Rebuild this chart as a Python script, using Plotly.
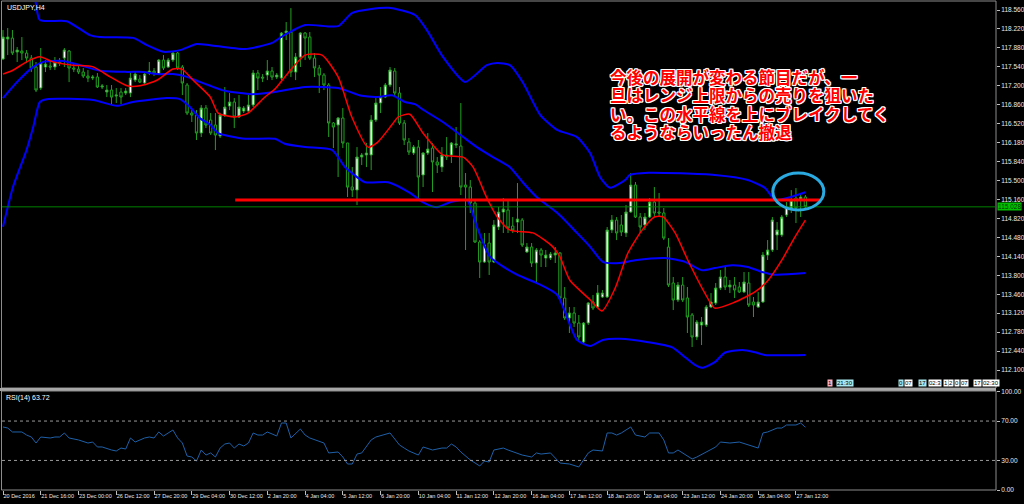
import plotly.graph_objects as go

# ---------------- data ----------------
bars = list(range(171))
opens = [117.680,118.039,118.057,117.806,117.824,117.788,117.698,117.537,117.160,117.537,
         117.555,117.537,117.627,117.698,117.824,117.519,117.501,117.447,117.375,117.339,
         117.357,117.178,117.088,117.124,117.016,117.088,117.070,117.070,117.303,117.321,
         117.250,117.429,117.465,117.411,117.662,117.537,117.662,117.788,117.537,117.214,
         116.711,116.675,116.352,116.801,116.586,116.496,116.299,116.675,116.837,116.909,
         116.640,116.747,116.747,116.855,117.429,117.357,117.393,117.465,117.357,117.339,
         118.147,118.165,117.447,117.716,118.147,118.075,117.698,117.519,117.393,117.214,
         116.532,116.496,116.622,116.173,115.383,115.329,115.922,115.958,115.958,116.586,
         116.891,116.998,117.214,117.465,117.070,116.532,116.191,115.994,116.101,115.599,
         115.994,116.083,115.832,115.742,115.958,115.958,116.137,116.119,115.419,115.383,
         115.096,114.397,114.038,114.379,114.038,114.666,114.935,114.971,114.684,114.755,
         114.791,114.217,114.307,114.020,114.253,114.109,114.109,114.163,114.199,113.392,
         113.033,113.123,112.943,112.602,112.943,113.320,113.230,113.410,113.410,114.612,
         114.791,114.702,114.558,114.935,115.419,114.845,114.702,114.845,115.114,114.935,
         114.917,114.307,113.661,113.356,113.625,113.392,113.087,112.692,112.907,112.907,
         113.230,113.302,113.571,113.769,113.589,113.625,113.589,113.499,113.661,113.320,
         113.230,113.320,114.163,114.253,114.522,114.522,114.881,115.007,115.186,115.168,
         115.204]
highs = [118.201,118.237,118.201,117.896,118.075,117.842,117.752,117.627,117.878,117.662,
         117.627,117.716,117.698,117.878,117.842,117.591,117.573,117.519,117.483,117.393,
         117.429,117.232,117.214,117.214,117.160,117.160,117.160,117.447,117.447,117.393,
         117.447,117.627,117.519,117.680,117.752,117.698,117.806,117.806,117.573,117.250,
         116.765,116.765,116.855,116.855,116.711,116.711,116.711,117.178,117.070,116.980,
         117.034,116.837,117.034,117.483,117.483,117.411,117.662,117.537,117.429,118.165,
         118.344,118.595,117.788,118.165,118.165,118.165,117.788,117.573,117.429,117.250,
         116.550,116.640,116.801,116.173,115.742,116.101,115.994,116.173,116.675,116.980,
         117.178,117.250,117.537,117.519,117.178,116.586,116.263,116.137,116.227,116.011,
         116.352,116.173,115.922,116.101,116.281,116.191,116.460,116.891,115.635,115.509,
         115.150,114.432,114.558,114.558,114.791,115.025,115.186,115.150,114.845,115.455,
         114.827,114.379,114.379,114.289,114.289,114.253,114.217,114.307,114.217,113.589,
         113.230,113.230,113.087,112.961,113.320,113.446,113.625,113.535,114.666,114.881,
         114.845,114.881,115.060,115.635,115.473,114.917,114.917,115.186,115.383,115.276,
         115.007,114.468,113.769,113.679,113.769,113.589,113.123,112.997,113.051,113.266,
         113.481,113.661,113.894,113.948,113.715,113.769,113.679,113.858,113.858,113.410,
         113.499,114.217,114.432,114.845,114.755,114.881,115.114,115.329,115.365,115.240,
         115.240]
lows = [117.662,117.752,117.752,117.627,117.662,117.609,117.447,117.088,117.124,117.447,
        117.483,117.483,117.555,117.537,117.267,117.447,117.411,117.339,117.267,117.303,
        117.160,117.142,116.998,116.855,116.891,116.873,117.034,116.998,117.267,117.250,
        117.232,117.393,117.375,117.393,117.483,117.519,117.627,117.483,117.034,116.675,
        116.550,116.227,116.281,116.442,116.317,116.047,116.263,116.640,116.765,116.442,
        116.622,116.711,116.711,116.819,117.124,117.267,117.303,117.303,117.321,117.303,
        118.021,117.357,117.303,117.537,117.662,117.662,117.357,117.070,117.124,116.281,
        116.083,115.563,116.083,115.204,115.204,115.060,115.778,115.742,115.688,116.550,
        116.711,116.980,117.178,116.998,116.496,116.137,115.958,115.958,115.186,115.383,
        115.958,115.294,115.635,115.653,115.868,115.814,116.083,115.240,114.253,114.917,
        114.379,113.751,114.020,113.805,114.020,114.612,114.558,114.558,114.558,114.558,
        114.307,114.199,113.948,113.661,113.948,113.948,114.074,114.020,113.356,112.997,
        112.764,112.871,112.638,112.584,112.907,113.176,113.212,113.392,113.392,114.558,
        114.432,114.504,114.486,114.917,114.827,114.558,114.612,114.827,114.845,114.845,
        114.432,113.589,113.176,113.320,113.320,112.764,112.512,112.638,112.548,112.871,
        113.212,113.266,113.535,113.535,113.481,113.392,113.481,113.481,113.230,113.051,
        113.212,113.302,114.074,114.217,114.253,114.486,114.845,114.917,114.737,114.845,
        114.971]
closes = [118.075,118.075,117.788,117.842,117.788,117.698,117.519,117.124,117.609,117.591,
          117.537,117.627,117.609,117.842,117.519,117.501,117.447,117.375,117.339,117.357,
          117.178,117.196,117.124,116.998,117.034,116.998,117.106,117.339,117.411,117.267,
          117.411,117.465,117.429,117.662,117.519,117.662,117.788,117.519,117.250,116.711,
          116.675,116.352,116.801,116.496,116.352,116.317,116.675,116.819,116.909,116.640,
          116.819,116.801,116.855,117.429,117.339,117.339,117.465,117.357,117.393,118.147,
          118.183,117.447,117.716,118.147,118.057,117.698,117.519,117.393,117.214,116.532,
          116.460,116.622,116.173,115.383,115.329,115.922,115.958,115.994,116.586,116.891,
          116.998,117.214,117.483,117.070,116.532,116.227,116.011,116.101,115.563,115.994,
          116.065,115.832,115.778,115.958,115.922,116.173,116.155,115.383,115.383,115.096,
          114.397,114.038,114.343,114.038,114.702,114.935,114.989,114.648,114.612,114.809,
          114.343,114.307,114.020,114.253,114.163,114.163,114.181,114.199,113.392,113.033,
          113.123,112.943,112.692,112.943,113.302,113.212,113.481,113.481,114.612,114.791,
          114.558,114.576,114.935,115.419,114.845,114.666,114.845,115.114,114.917,114.917,
          114.468,113.625,113.356,113.625,113.356,113.051,112.692,112.961,112.961,113.230,
          113.320,113.571,113.769,113.589,113.625,113.535,113.499,113.679,113.266,113.266,
          113.320,114.163,114.253,114.791,114.612,114.845,115.025,115.150,115.007,115.204,
          115.028]

# Bollinger band lines and moving average
upper_x = [0, 4, 6.8, 7.8, 13.5, 18.4, 20.5, 27.6, 30.5, 34, 37.5, 41, 43.9, 51.3, 57, 59, 64, 71, 74,
           81.6, 87.3, 89.8, 93.2, 97.9, 102.5, 104.7, 107.4, 110.2, 113.8, 117.4, 121.6, 124.4, 126.5,
           128.6, 131.8, 132.8, 136.7, 150.8, 157.8, 161.4, 163.6, 166.3, 170]
upper_y = [119.82, 119.28, 118.74, 118.38, 118.36, 118.11, 118.075, 118.06, 117.93, 117.81, 117.84,
           117.95, 117.93, 117.86, 117.97, 118.08, 118.29, 118.27, 118.51, 118.60, 118.47, 118.20,
           117.72, 117.27, 117.57, 117.61, 117.57, 117.25, 116.68, 116.41, 116.28, 115.99, 115.56,
           115.37, 115.51, 115.60, 115.64, 115.60, 115.51, 115.37, 115.15, 115.19, 115.29]
mid_x = [0, 3, 6.4, 8.5, 12.7, 16.3, 20.6, 26.3, 29.7, 32.6, 36, 39, 41.7, 43.9, 47, 52.8, 57.6, 64, 71,
         76, 79.4, 82.4, 85.2, 87.3, 89, 93.2, 97.5, 100.4, 103.8, 107.4, 110.2, 113.1, 117.4, 121.6,
         124.4, 127.1, 130.7, 133.9, 140.3, 144.5, 148.1, 150.8, 154.4, 157.8, 160.8, 163.6, 170]
mid_y = [116.98, 117.27, 117.54, 117.63, 117.645, 117.57, 117.47, 117.45, 117.45, 117.41, 117.41, 117.36,
         117.27, 117.20, 117.11, 117.05, 117.09, 117.18, 117.16, 117.02, 117.00, 117.03, 116.91, 116.87,
         116.77, 116.55, 116.28, 116.10, 115.92, 115.74, 115.46, 115.20, 114.92, 114.56, 114.31, 114.04,
         114.02, 114.07, 114.11, 114.04, 113.89, 113.93, 113.98, 113.95, 113.86, 113.81, 113.84]
lower_x = [0, 2.1, 5, 6.4, 7.8, 9.3, 19.1, 24.1, 27.5, 34.7, 37.5, 39.6, 41.7, 43.9, 45.6, 51.3, 57.6,
           59.7, 64, 69.7, 72.5, 76.7, 81.6, 86.2, 89, 91.9, 94.7, 98.3, 100.4, 103.2, 108.9, 113.1,
           117.4, 121.6, 124.4, 127.1, 130.7, 136.7, 141.7, 144.5, 146.6, 148.1, 150.8, 152.9, 156.6,
           159.3, 161.4, 170]
lower_y = [114.67, 115.38, 116.05, 116.46, 116.91, 116.96, 116.945, 116.84, 116.91, 116.98, 116.96,
           116.82, 116.62, 116.50, 116.35, 116.25, 116.25, 116.16, 116.10, 116.05, 115.74, 115.47,
           115.47, 115.28, 115.11, 115.02, 115.11, 115.15, 114.67, 114.13, 113.81, 113.66, 113.45,
           112.64, 112.53, 112.64, 112.66, 112.60, 112.51, 112.33, 112.19, 112.14, 112.24, 112.41,
           112.46, 112.42, 112.37, 112.37]
ma_x = [0, 2.1, 5, 7.8, 10.6, 14.8, 19.1, 22.7, 26.3, 29, 32.6, 36, 37.9, 40.3, 43.9, 45.6, 49.2, 51.9,
        55.5, 57.6, 60.4, 64, 67.6, 71, 73.9, 77.3, 79.4, 82.4, 83.7, 86.2, 89, 93.2, 97.5, 99.6, 102.5,
        104.7, 107.4, 112.3, 116.5, 118, 120.1, 124.4, 126.9, 129.7, 132.4, 135.4, 138.1, 139.8, 142.4,
        145.1, 148.7, 150.8, 155.1, 159.3, 162.1, 165, 167.8, 170]
ma_y = [117.41, 117.48, 117.63, 117.72, 117.63, 117.57, 117.54, 117.36, 117.20, 117.20, 117.30, 117.50,
        117.50, 117.30, 117.00, 116.71, 116.64, 116.71, 117.00, 117.14, 117.43, 117.75, 117.75, 117.36,
        116.64, 116.10, 116.19, 116.50, 116.64, 116.69, 116.35, 115.96, 115.92, 115.74, 115.19, 114.85,
        114.61, 114.56, 114.31, 114.13, 113.71, 113.36, 113.16, 113.57, 114.20, 114.61, 114.85, 114.85,
        114.56, 114.07, 113.48, 113.21, 113.32, 113.50, 113.71, 114.07, 114.49, 114.79]

rsi_x = [0, 1, 2, 4, 5, 6, 7, 8, 10, 11, 12, 13, 14, 16, 18, 19, 20, 21, 23, 24, 25, 26, 27, 28, 30, 31,
         32, 33, 34, 36, 37, 38, 39, 40, 41, 42, 43, 44, 45, 46, 47, 48, 49, 50, 51, 52, 53, 54, 55, 56,
         57, 58, 59, 60, 61, 63, 64, 65, 68, 69, 71, 72, 73, 74, 75, 76, 78, 79, 82, 84, 85, 86, 88, 89,
         91, 93, 94, 95, 96, 97, 99, 101, 102, 103, 104, 106, 107, 109, 110, 112, 113, 114, 116, 118,
         120, 122, 124, 125, 127, 128, 129, 130, 131, 133, 134, 136, 137, 139, 140, 141, 142, 143, 144,
         146, 147, 149, 151, 152, 154, 156, 158, 160, 161, 162, 164, 165, 166, 168, 169, 170]
rsi_v = [64.0, 62.9, 58.9, 58.9, 55.8, 53.8, 47.7, 53.8, 52.8, 53.8, 53.8, 57.9, 52.8, 50.8, 47.7, 48.7,
         43.7, 43.7, 40.6, 39.6, 42.6, 41.6, 52.8, 48.7, 52.8, 53.8, 52.8, 58.9, 54.8, 60.9, 52.8, 47.7,
         34.5, 33.5, 29.4, 40.6, 35.5, 37.6, 33.5, 42.6, 46.7, 47.7, 42.6, 46.7, 44.7, 47.7, 57.9, 55.8,
         55.8, 58.9, 56.9, 54.8, 68.0, 68.0, 52.8, 61.9, 55.8, 52.8, 47.7, 37.6, 38.6, 33.5, 26.4, 26.4,
         36.5, 37.6, 50.8, 53.8, 57.9, 45.7, 42.6, 39.6, 35.5, 43.7, 40.6, 42.6, 42.6, 46.7, 43.7, 38.6,
         30.5, 24.4, 29.4, 28.4, 40.6, 42.6, 40.6, 37.6, 35.5, 33.5, 37.6, 36.5, 37.6, 27.4, 26.4, 23.4,
         37.6, 40.6, 39.6, 57.9, 57.9, 55.8, 57.9, 64.0, 55.8, 53.8, 57.9, 57.9, 50.8, 37.6, 37.6, 40.6,
         37.6, 31.5, 33.5, 38.6, 43.7, 48.7, 47.7, 48.7, 45.7, 42.6, 57.9, 58.9, 62.9, 62.9, 66.0, 66.0,
         68.0, 63.72]

price_ticks = [118.56, 118.22, 117.88, 117.54, 117.20, 116.86, 116.52, 116.18, 115.84, 115.50, 115.16,
               114.82, 114.48, 114.14, 113.80, 113.46, 113.12, 112.78, 112.44, 112.10]
time_tick_bars = list(range(0, 171, 8))
time_tick_labels = ["20 Dec 2016", "21 Dec 16:00", "23 Dec 00:00", "26 Dec 12:00", "27 Dec 20:00",
                    "29 Dec 04:00", "30 Dec 12:00", "2 Jan 20:00", "4 Jan 04:00", "5 Jan 12:00",
                    "6 Jan 20:00", "10 Jan 04:00", "11 Jan 12:00", "12 Jan 20:00", "16 Jan 04:00",
                    "17 Jan 12:00", "18 Jan 20:00", "20 Jan 04:00", "23 Jan 12:00", "24 Jan 20:00",
                    "26 Jan 04:00", "27 Jan 12:00"]
rsi_ticks = [0, 30, 70, 100]
current_price = 115.028
resistance = 115.15
resistance_from, resistance_to = 49.2, 173.1
note_lines = ["今後の展開が変わる節目だが、一",
              "旦はレンジ上限からの売りを狙いた",
              "い。この水平線を上にブレイクしてく",
              "るようならいったん撤退"]

# ---------------- figure ----------------
W, H = 1024, 504
def px(x): return x / W
def py(y): return 1 - y / H

fig = go.Figure()
fig.add_trace(go.Candlestick(
    x=bars, open=opens, high=highs, low=lows, close=closes,
    increasing=dict(line=dict(color="#22a022", width=1), fillcolor="#ffffff"),
    decreasing=dict(line=dict(color="#22a022", width=1), fillcolor="#000000"),
    whiskerwidth=0, xaxis="x", yaxis="y", hoverinfo="skip"))
for xs, ys in [(upper_x, upper_y), (mid_x, mid_y), (lower_x, lower_y)]:
    fig.add_trace(go.Scatter(x=xs, y=ys, mode="lines", line=dict(color="#0000ff", width=2, shape="spline", smoothing=0.6),
                             xaxis="x", yaxis="y", hoverinfo="skip"))
fig.add_trace(go.Scatter(x=ma_x, y=ma_y, mode="lines", line=dict(color="#ff0000", width=1.5, shape="spline", smoothing=0.6),
                         xaxis="x", yaxis="y", hoverinfo="skip"))
fig.add_trace(go.Scatter(x=rsi_x, y=rsi_v, mode="lines", line=dict(color="#1f60a8", width=1),
                         xaxis="x2", yaxis="y2", hoverinfo="skip"))

xr = [(2 - 3) / 4.72, (996 - 3) / 4.72]
small = dict(family="Liberation Sans", size=6.5, color="#e8e8e8")
tiny = dict(family="Liberation Sans", size=5.5, color="#e8e8e8")
fig.update_layout(
    width=W, height=H, margin=dict(l=0, r=0, t=0, b=0, pad=0, autoexpand=False),
    paper_bgcolor="#000000", plot_bgcolor="#000000", showlegend=False,
    xaxis=dict(domain=[px(2), px(996)], range=xr, anchor="y", showticklabels=False, showgrid=False,
               zeroline=False, rangeslider=dict(visible=False), ticks="", automargin=False),
    yaxis=dict(domain=[py(388), py(2)], range=[111.777, 118.704], anchor="x", side="right",
               tickvals=price_ticks, ticktext=[f"{v:.3f}" for v in price_ticks], ticks="outside",
               ticklen=3, tickcolor="#c0c0c0", tickfont=small, showgrid=False, zeroline=False,
               automargin=False),
    xaxis2=dict(domain=[px(2), px(996)], range=xr, anchor="y2", showgrid=False, zeroline=False,
                tickvals=time_tick_bars, ticktext=time_tick_labels, ticks="outside", ticklen=4,
                tickcolor="#c0c0c0", tickfont=tiny, ticklabelposition="outside right", tickangle=0,
                automargin=False),
    yaxis2=dict(domain=[py(490), py(391.5)], range=[0, 100], anchor="x2", side="right",
                tickvals=rsi_ticks, ticktext=[f"{v:.2f}" for v in rsi_ticks], ticks="outside",
                ticklen=3, tickcolor="#c0c0c0", tickfont=small, showgrid=False, zeroline=False,
                automargin=False),
)

shapes = []
# frames
shapes.append(dict(type="rect", xref="paper", yref="paper", x0=px(1.5), x1=px(996), y0=py(388), y1=py(1),
                   line=dict(color="#8c8c8c", width=1)))
shapes.append(dict(type="rect", xref="paper", yref="paper", x0=px(0), x1=px(996), y0=py(391), y1=py(388),
                   fillcolor="#a8a8a8", line=dict(width=0)))
shapes.append(dict(type="rect", xref="paper", yref="paper", x0=px(1.5), x1=px(996), y0=py(490), y1=py(391),
                   line=dict(color="#8c8c8c", width=1)))
# rsi levels
for lv in [70, 30]:
    shapes.append(dict(type="line", xref="paper", yref="y2", x0=px(2), x1=px(996), y0=lv, y1=lv,
                       line=dict(color="#9a9a9a", width=1, dash="dot")))
# current price line
shapes.append(dict(type="line", xref="paper", yref="y", x0=px(2), x1=px(996), y0=current_price, y1=current_price,
                   line=dict(color="#008000", width=1)))
# resistance line
shapes.append(dict(type="line", xref="x", yref="y", x0=resistance_from, x1=resistance_to, y0=resistance, y1=resistance,
                   line=dict(color="#ff0000", width=3)))
# ellipse
shapes.append(dict(type="circle", xref="x", yref="y", x0=163.1, x1=173.9, y0=114.97, y1=115.635,
                   line=dict(color="#2aaae0", width=3)))
fig.update_layout(shapes=shapes)

ann = []
ann.append(dict(text="USDJPY,H4", x=px(5), y=py(2), xref="paper", yref="paper", xanchor="left", yanchor="top",
                showarrow=False, font=dict(family="Liberation Sans", size=7, color="#ffffff")))
ann.append(dict(text="RSI(14) 63.72", x=px(4), y=py(392), xref="paper", yref="paper", xanchor="left",
                yanchor="top", showarrow=False, font=dict(family="Liberation Sans", size=7, color="#ffffff")))
ann.append(dict(text="115.028", x=px(997), y=current_price, xref="paper", yref="y", xanchor="left",
                yanchor="middle", showarrow=False, bgcolor="#00c000", borderpad=0,
                font=dict(family="Liberation Sans", size=6.5, color="#003300")))
shadow = ("1px 0 0 #fff, -1px 0 0 #fff, 0 1px 0 #fff, 0 -1px 0 #fff, "
          "1px 1px 0 #fff, -1px -1px 0 #fff, 1px -1px 0 #fff, -1px 1px 0 #fff")
for k, line in enumerate(note_lines):
    ann.append(dict(text=line, x=px(608), y=py(77 + 18.4 * k), xref="paper", yref="paper", xanchor="left",
                    yanchor="middle", showarrow=False,
                    font=dict(family="Noto Sans CJK JP", size=16.5, color="#ff0000", weight=700, shadow=shadow)))
# small time objects near the bottom of the price panel
tags = [(827, "1", "#ffb0c0"), (836, "21:30", "#a8e8f0"), (898, "0", "#a8e8f0"), (904, "07", "#ffffff"),
        (918, "17", "#a8e8f0"), (928, "02:3", "#ffffff"), (943, "1", "#ffffff"), (948, "2", "#ffffff"),
        (954, "0", "#ffffff"), (960, "07", "#ffffff"), (973, "17", "#ffffff"), (982, "02:30", "#ffffff")]
for xx, tt, bg in tags:
    ann.append(dict(text=tt, x=px(xx), y=py(382.5), xref="paper", yref="paper", xanchor="left", yanchor="middle",
                    showarrow=False, bgcolor=bg, borderpad=0,
                    font=dict(family="Liberation Sans", size=6, color="#000000")))
fig.update_layout(annotations=ann)

fig.write_html("out.html", config={"displayModeBar": False},
               post_script="document.body.style.margin='0';document.body.style.background='#000';")
